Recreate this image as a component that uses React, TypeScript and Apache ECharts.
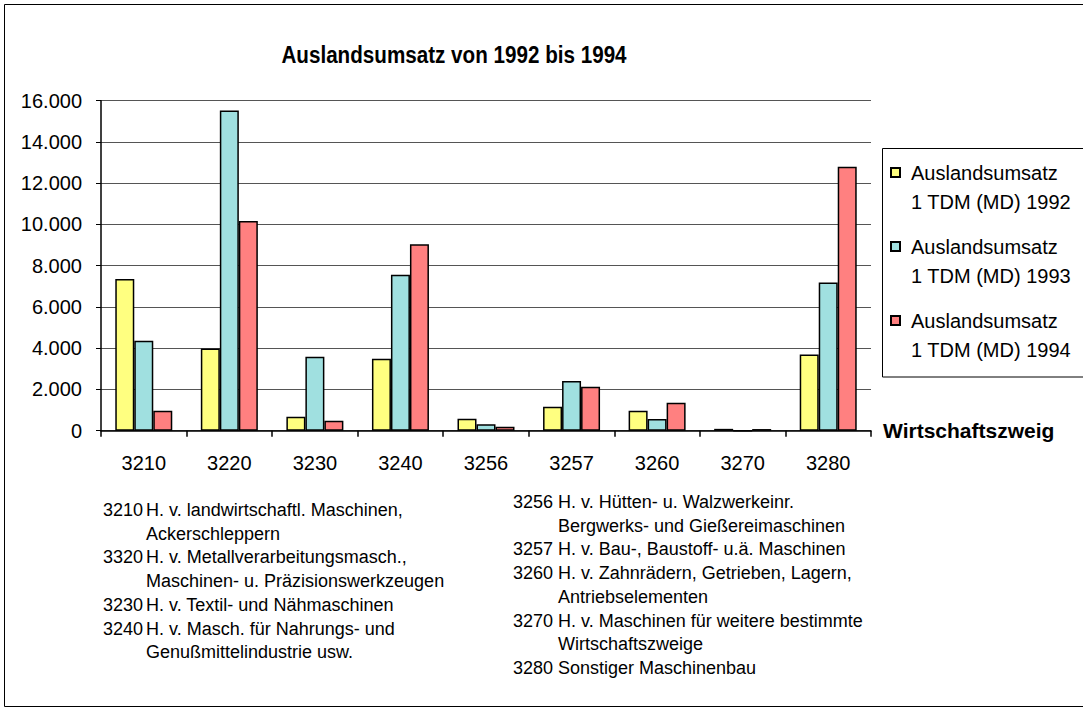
import React, { useEffect, useRef } from "react";
import * as echarts from "echarts";

const categories = ["3210", "3220", "3230", "3240", "3256", "3257", "3260", "3270", "3280"];
const values1992 = [7350, 3980, 680, 3490, 580, 1160, 970, 90, 3690];
const values1993 = [4360, 15520, 3590, 7560, 310, 2410, 570, 0, 7180];
const values1994 = [970, 10170, 485, 9040, 190, 2130, 1360, 80, 12800];
const seriesNames = [
  "Auslandsumsatz\n1 TDM (MD) 1992",
  "Auslandsumsatz\n1 TDM (MD) 1993",
  "Auslandsumsatz\n1 TDM (MD) 1994",
];
const seriesColors = ["#FFFF80", "#A0E0E0", "#FF8080"];
const titleText = "Auslandsumsatz von 1992 bis 1994";
const xAxisName = "Wirtschaftszweig";

const leftNotes: [string, string][] = [
  ["3210", "H. v. landwirtschaftl. Maschinen,"],
  ["", "Ackerschleppern"],
  ["3320", "H. v. Metallverarbeitungsmasch.,"],
  ["", "Maschinen- u. Präzisionswerkzeugen"],
  ["3230", "H. v. Textil- und Nähmaschinen"],
  ["3240", "H. v. Masch. für Nahrungs- und"],
  ["", "Genußmittelindustrie usw."],
];
const rightNotes: [string, string][] = [
  ["3256", "H. v. Hütten- u. Walzwerkeinr."],
  ["", "Bergwerks- und Gießereimaschinen"],
  ["3257", "H. v. Bau-, Baustoff- u.ä. Maschinen"],
  ["3260", "H. v. Zahnrädern, Getrieben, Lagern,"],
  ["", "Antriebselementen"],
  ["3270", "H. v. Maschinen für weitere bestimmte"],
  ["", "Wirtschaftszweige"],
  ["3280", "Sonstiger Maschinenbau"],
];

const FONT = "'Liberation Sans', Arial, Helvetica, sans-serif";

function fmt(v: number): string {
  return String(v).replace(/\B(?=(\d{3})+(?!\d))/g, ".");
}

function noteTexts(notes: [string, string][], xNum: number, xDesc: number, y0: number, step: number) {
  const els: any[] = [];
  notes.forEach((n, i) => {
    const y = y0 + i * step;
    if (n[0]) {
      els.push({
        type: "text",
        x: xNum,
        y,
        style: { text: n[0], font: `18px ${FONT}`, fill: "#000", verticalAlign: "middle" },
      });
    }
    els.push({
      type: "text",
      x: xDesc,
      y,
      style: { text: n[1], font: `18px ${FONT}`, fill: "#000", verticalAlign: "middle" },
    });
  });
  return els;
}

export default function App() {
  const ref = useRef<HTMLDivElement>(null);
  useEffect(() => {
    if (!ref.current) return;
    const chart = echarts.init(ref.current, null, { renderer: "svg" });
    const allValues = [values1992, values1993, values1994];
    chart.setOption({
      animation: false,
      backgroundColor: "#fff",
      legend: {
        orient: "vertical",
        left: 890,
        top: 129,
        padding: 0,
        itemWidth: 9,
        itemHeight: 9,
        itemGap: -13,
        icon: "rect",
        selectedMode: false,
        formatter: (name: string) => "\n" + name,
        textStyle: {
          fontFamily: FONT,
          fontSize: 20,
          color: "#000",
          lineHeight: 29,
          padding: [0, 0, 0, 6],
        },
        data: seriesNames,
      },
      grid: {
        left: 101,
        right: 212,
        top: 100.7,
        bottom: 281.3,
        containLabel: false,
      },
      xAxis: {
        type: "category",
        data: categories,
        name: xAxisName,
        nameLocation: "end",
        nameGap: 12,
        nameTextStyle: {
          fontFamily: FONT,
          fontSize: 21,
          fontWeight: "bold",
          color: "#000",
          align: "left",
          verticalAlign: "middle",
          padding: [12, 0, 0, 0],
        },
        axisLine: { lineStyle: { color: "#000", width: 1.5 } },
        axisTick: { show: true, length: 6, alignWithLabel: false, lineStyle: { color: "#000", width: 1.5 } },
        axisLabel: {
          fontFamily: FONT,
          fontSize: 20,
          color: "#000",
          margin: 22,
          lineHeight: 20,
        },
      },
      yAxis: {
        type: "value",
        min: 0,
        max: 16000,
        interval: 2000,
        axisLine: { show: true, lineStyle: { color: "#000", width: 1.5 } },
        axisTick: { show: true, length: 5, lineStyle: { color: "#000", width: 1 } },
        axisLabel: {
          fontFamily: FONT,
          fontSize: 20,
          color: "#000",
          margin: 19,
          formatter: (v: number) => fmt(v),
        },
        splitLine: { show: true, lineStyle: { color: "#555", width: 1 } },
      },
      series: allValues.map((vals, i) => ({
        type: "bar",
        name: seriesNames[i],
        data: vals,
        barWidth: 19,
        barGap: "0%",
        itemStyle: { color: seriesColors[i], borderColor: "#000", borderWidth: 1.5 },
      })),
      graphic: [
        {
          type: "rect",
          shape: { x: 4.5, y: 4.5, width: 1100, height: 702 },
          style: { fill: "none", stroke: "#000", lineWidth: 1 },
          silent: true,
        },
        {
          type: "rect",
          shape: { x: 882.5, y: 148.5, width: 300, height: 228.5 },
          style: { fill: "none", stroke: "#000", lineWidth: 1 },
          silent: true,
        },
        {
          type: "text",
          x: 454,
          y: 55,
          scaleX: 0.86,
          style: {
            text: titleText,
            font: `bold 24px ${FONT}`,
            fill: "#000",
            align: "center",
            verticalAlign: "middle",
          },
        },
        ...noteTexts(leftNotes, 103, 146, 510, 23.7),
        ...noteTexts(rightNotes, 513, 558, 502, 23.7),
      ],
    });
    return () => chart.dispose();
  }, []);
  return (
    <div
      ref={ref}
      style={{ position: "absolute", left: 0, top: 0, width: 1083, height: 712 }}
    />
  );
}
